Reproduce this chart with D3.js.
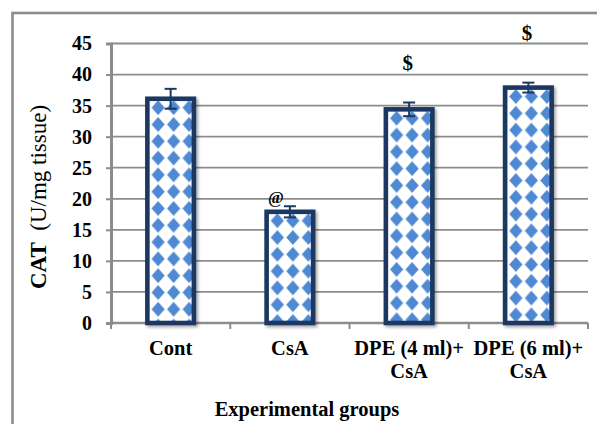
<!DOCTYPE html>
<html>
<head>
<meta charset="utf-8">
<script src="https://cdn.jsdelivr.net/npm/d3@7"></script>
<style>
  html, body { margin: 0; padding: 0; background: #fff; }
  svg { display: block; }
  text { font-family: "Liberation Serif", "Times New Roman", serif; fill: #000; }
</style>
</head>
<body>
<svg id="chart" width="597" height="424"></svg>
<script>
// Catalase activity per experimental group
const categories = ["Cont", "CsA", "DPE (4 ml)+ CsA", "DPE (6 ml)+ CsA"];
const labelLines = [["Cont"], ["CsA"], ["DPE (4 ml)+", "CsA"], ["DPE (6 ml)+", "CsA"]];
const means = [36.1, 17.9, 34.4, 37.9];
const errors = [1.6, 0.9, 1.1, 0.8];
const marks = ["", "@", "$", "$"];
const markLevels = [null, 19.3, 40.7, 45.6];
const yTicks = [0, 5, 10, 15, 20, 25, 30, 35, 40, 45];

const svg = d3.select("#chart");
const navy = "#1b3862";
const blue = "#5089d3";
const grid = "#8c8c8c";

const plotL = 111, plotR = 588, plotT = 43.5, plotB = 323;

const x = d3.scaleBand().domain(categories).range([plotL, plotR])
  .paddingInner(0.61).paddingOuter(0.305);
const xEdge = d3.scaleBand().domain(categories).range([plotL, plotR]).padding(0);
const y = d3.scaleLinear().domain([0, 45]).range([plotB, plotT]);

const defs = svg.append("defs");
const shadow = defs.append("filter").attr("id", "shadow")
  .attr("x", "-20%").attr("y", "-10%").attr("width", "150%").attr("height", "130%");
shadow.append("feGaussianBlur").attr("in", "SourceAlpha").attr("stdDeviation", 1.6);
shadow.append("feOffset").attr("dx", 2).attr("dy", 1.5).attr("result", "off");
shadow.append("feComponentTransfer").append("feFuncA").attr("type", "linear").attr("slope", 0.35);
const merge = shadow.append("feMerge");
merge.append("feMergeNode");
merge.append("feMergeNode").attr("in", "SourceGraphic");

// Diamond fill, one tile per bar so the grid starts at each bar's corner
const tileW = 15.5, tileH = 16.8;
categories.forEach((c, i) => {
  const p = defs.append("pattern").attr("id", "diam" + i)
    .attr("patternUnits", "userSpaceOnUse")
    .attr("x", x(c) + 3).attr("y", y(means[i]) + 0.5)
    .attr("width", tileW).attr("height", tileH);
  p.append("rect").attr("width", tileW).attr("height", tileH).attr("fill", "#fff");
  const cx = tileW / 2, cy = tileH / 2, rx = 6.6, ry = 7.4;
  p.append("path").attr("fill", blue)
    .attr("d", `M${cx},${cy - ry}L${cx + rx},${cy}L${cx},${cy + ry}L${cx - rx},${cy}Z`);
});

// Outer frame (runs off the right and bottom edges)
svg.append("rect").attr("x", 12.5).attr("y", 13).attr("width", 620).attr("height", 440)
  .attr("fill", "none").attr("stroke", grid).attr("stroke-width", 2.6);

// Horizontal gridlines
svg.append("g").selectAll("line").data(yTicks.filter(t => t > 0)).join("line")
  .attr("x1", plotL).attr("x2", plotR)
  .attr("y1", d => y(d)).attr("y2", d => y(d))
  .attr("stroke", grid).attr("stroke-width", 1.8);

// Y axis
const yAxis = svg.append("g").attr("transform", `translate(${plotL},0)`)
  .call(d3.axisLeft(y).tickValues(yTicks).tickSize(5).tickPadding(14));
yAxis.select(".domain").attr("stroke", grid).attr("stroke-width", 3);
yAxis.selectAll(".tick line").attr("stroke", grid).attr("stroke-width", 2);
yAxis.selectAll(".tick text")
  .style("font-family", '"Liberation Serif", serif')
  .style("font-weight", "bold").style("font-size", "20px").attr("fill", "#000");

// X axis with boundary ticks between groups
const xAxis = svg.append("g").attr("transform", `translate(0,${plotB})`);
xAxis.append("line").attr("x1", plotL).attr("x2", plotR).attr("y1", 0).attr("y2", 0)
  .attr("stroke", grid).attr("stroke-width", 2.6);
xAxis.selectAll(".bt").data(categories.concat(["end"])).join("line")
  .attr("class", "bt")
  .attr("x1", d => d === "end" ? plotR : xEdge(d))
  .attr("x2", d => d === "end" ? plotR : xEdge(d))
  .attr("y1", 0).attr("y2", 6)
  .attr("stroke", grid).attr("stroke-width", 2);

// Category labels
const catText = svg.append("g").selectAll("text").data(categories).join("text")
  .attr("x", d => x(d) + x.bandwidth() / 2)
  .attr("y", 355)
  .attr("text-anchor", "middle")
  .style("font-weight", "bold").style("font-size", "20.5px");
catText.selectAll("tspan").data((d, i) => labelLines[i]).join("tspan")
  .attr("x", function () { return d3.select(this.parentNode).attr("x"); })
  .attr("dy", (d, i) => i === 0 ? 0 : 23)
  .text(d => d);

// Bars
const rows = categories.map((c, i) => ({ c, i, v: means[i], e: errors[i], m: marks[i], ml: markLevels[i] }));
svg.append("g").selectAll("rect").data(rows).join("rect")
  .attr("x", d => x(d.c)).attr("width", x.bandwidth())
  .attr("y", d => y(d.v)).attr("height", d => y(0) - y(d.v))
  .attr("fill", d => `url(#diam${d.i})`)
  .attr("stroke", navy).attr("stroke-width", 4.6)
  .attr("filter", "url(#shadow)");

// Error bars
const eb = svg.append("g").attr("stroke", navy).attr("stroke-width", 2);
eb.selectAll(".stem").data(rows).join("line").attr("class", "stem")
  .attr("x1", d => x(d.c) + x.bandwidth() / 2).attr("x2", d => x(d.c) + x.bandwidth() / 2)
  .attr("y1", d => y(d.v + d.e)).attr("y2", d => y(d.v - d.e));
["top", "bot"].forEach(k => {
  eb.selectAll(".cap" + k).data(rows).join("line").attr("class", "cap" + k)
    .attr("x1", d => x(d.c) + x.bandwidth() / 2 - 6).attr("x2", d => x(d.c) + x.bandwidth() / 2 + 6)
    .attr("y1", d => y(k === "top" ? d.v + d.e : d.v - d.e))
    .attr("y2", d => y(k === "top" ? d.v + d.e : d.v - d.e));
});

// Significance symbols
svg.append("g").selectAll("text").data(rows.filter(d => d.m)).join("text")
  .attr("x", d => x(d.c) + x.bandwidth() / 2)
  .attr("dx", d => d.m === "@" ? -14 : -1.5)
  .attr("y", d => y(d.ml))
  .attr("text-anchor", "middle")
  .style("font-weight", "bold").style("font-size", d => d.m === "@" ? "17px" : "21px")
  .text(d => d.m);

// Axis titles
svg.append("text").attr("x", 307).attr("y", 416).attr("text-anchor", "middle")
  .style("font-weight", "bold").style("font-size", "20.5px")
  .text("Experimental groups");

const yt = svg.append("text").attr("transform", "translate(46,197) rotate(-90)")
  .attr("text-anchor", "middle").style("font-size", "23px");
yt.append("tspan").style("font-weight", "bold").text("CAT");
yt.append("tspan").text("\u00a0 (U/mg tissue)");
</script>
</body>
</html>
